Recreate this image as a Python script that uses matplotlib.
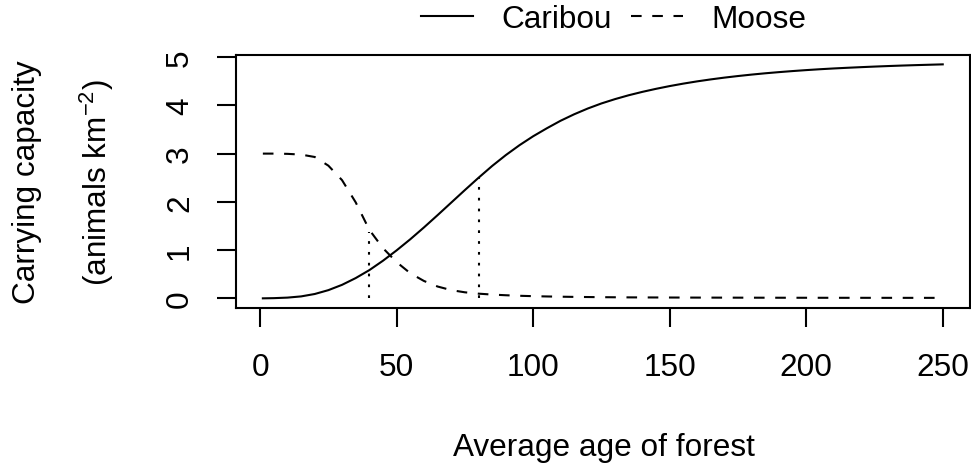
import matplotlib as mpl
mpl.use('Agg')
from matplotlib import pyplot as plt

# values
age = [1, 5, 10, 15, 20, 25, 30, 35, 40, 45, 50, 55, 60, 65, 70, 75, 80, 85, 90, 95, 100,
       105, 110, 115, 120, 125, 130, 135, 140, 145, 150, 155, 160, 165, 170, 175, 180,
       185, 190, 195, 200, 205, 210, 215, 220, 225, 230, 235, 240, 245, 250]
caribou = [0.0, 0.004, 0.015, 0.04, 0.09, 0.17, 0.28, 0.42, 0.585, 0.78, 0.995, 1.225,
           1.47, 1.725, 1.985, 2.245, 2.50, 2.745, 2.97, 3.175, 3.36,
           3.525, 3.68, 3.815, 3.935, 4.04, 4.13, 4.21, 4.28, 4.343, 4.40, 4.451, 4.497,
           4.538, 4.575, 4.608, 4.638, 4.665, 4.689, 4.711, 4.731, 4.749, 4.765, 4.779,
           4.792, 4.804, 4.815, 4.825, 4.834, 4.842, 4.85]
moose = [3.0, 3.0, 2.995, 2.98, 2.93, 2.75, 2.45, 1.99, 1.42, 1.04, 0.75, 0.52, 0.36,
         0.245, 0.17, 0.125, 0.097, 0.078, 0.064, 0.053, 0.045,
         0.039, 0.034, 0.030, 0.027, 0.024, 0.022, 0.020, 0.019, 0.018, 0.017, 0.016,
         0.0155, 0.015, 0.0145, 0.014, 0.0135, 0.013, 0.0125, 0.012, 0.0118, 0.0115,
         0.0112, 0.011, 0.0108, 0.0106, 0.0104, 0.0102, 0.0101, 0.010, 0.010]
cut_age = [40, 80]
cut_height = [1.38, 2.5]
xticks = [0, 50, 100, 150, 200, 250]
yticks = [0, 1, 2, 3, 4, 5]

plt.rcParams['font.family'] = ['Liberation Sans', 'DejaVu Sans']
plt.rcParams['mathtext.fontset'] = 'custom'
plt.rcParams['mathtext.rm'] = 'Liberation Sans'
plt.rcParams['mathtext.it'] = 'Liberation Sans:italic'
fs = 22.7
lw = 1.5

fig = plt.figure(figsize=(9.71, 4.64), dpi=100)
ax = fig.add_axes([0.2427, 0.3347, 0.7562, 0.5446])

ax.plot(age, caribou, color='black', lw=lw, label='Caribou')
ax.plot(age, moose, color='black', lw=lw, linestyle=(0, (5.1, 5.1)), label='Moose')
ax.vlines(cut_age, 0, cut_height, color='black', lw=lw, linestyle=(0, (1.3, 3.9)))
ax.margins(x=0.04, y=0.04)

ax.set_xticks(xticks)
ax.set_yticks(yticks)
ax.tick_params(direction='out', length=13.7, width=lw, labelsize=fs, color='black')
ax.tick_params(axis='x', pad=18.5)
ax.tick_params(axis='y', pad=15.6, labelrotation=90)
for lab in ax.get_yticklabels():
    lab.set_va('center')
for s in ax.spines.values():
    s.set_linewidth(lw)

fig.text(27.5 / 971, 1 - 182.5 / 464, 'Carrying capacity', rotation=90,
         ha='center', va='center', fontsize=fs)
fig.text(97 / 971, 1 - 182.5 / 464, r'(animals km$^{-2}$)', rotation=90,
         ha='center', va='center', fontsize=fs)
fig.text(604 / 971, 1 - 456 / 464, 'Average age of forest', ha='center', va='baseline',
         fontsize=fs)

fig.legend(loc='center', bbox_to_anchor=(0.632, 0.957), ncol=2, frameon=False,
           fontsize=fs, handlelength=1.65, handletextpad=0.9, columnspacing=0.6)

fig.savefig('out.png', dpi=100)
